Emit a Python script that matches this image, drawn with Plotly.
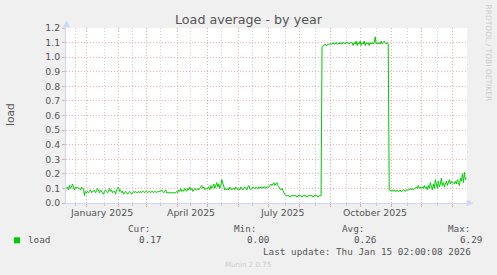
import plotly.graph_objects as go
import pandas as pd

# ---- data: daily load average (Munin "by year", 400 days ending 2026-01-14) ----
dec_2024 = [0.10,0.11,0.09,0.12,0.10,0.11,0.13,0.10,0.09,0.11,0.10,0.11,0.10,0.10,0.09,0.11,0.10,0.10,0.05,0.08,0.07]
jan_2025 = [0.08,0.07,0.08,0.09,0.07,0.08,0.08,0.09,0.07,0.08,0.10,0.08,0.07,0.09,0.08,0.07,0.06,0.08,0.09,0.08,0.07,0.08,0.10,0.08,0.09,0.07,0.08,0.08,0.06,0.09,0.10]
feb_2025 = [0.11,0.08,0.09,0.07,0.08,0.06,0.07,0.08,0.07,0.06,0.07,0.08,0.07,0.06,0.07,0.08,0.07,0.08,0.07,0.07,0.08,0.07,0.08,0.07,0.08,0.08,0.07,0.08]
mar_2025 = [0.08,0.07,0.08,0.08,0.07,0.08,0.08,0.07,0.08,0.08,0.07,0.08,0.08,0.08,0.08,0.09,0.08,0.07,0.08,0.09,0.07,0.07,0.07,0.07,0.07,0.07,0.07,0.07,0.07,0.07,0.08]
apr_2025 = [0.07,0.09,0.08,0.10,0.08,0.09,0.08,0.10,0.09,0.08,0.10,0.09,0.11,0.09,0.10,0.08,0.09,0.10,0.09,0.09,0.10,0.09,0.10,0.11,0.12,0.10,0.11,0.09,0.10,0.10]
may_2025 = [0.10,0.11,0.09,0.12,0.10,0.11,0.13,0.10,0.12,0.14,0.11,0.13,0.10,0.12,0.16,0.13,0.11,0.09,0.10,0.09,0.10,0.09,0.11,0.10,0.09,0.10,0.10,0.09,0.11,0.10,0.09]
jun_2025 = [0.10,0.09,0.11,0.10,0.09,0.10,0.11,0.10,0.09,0.11,0.12,0.10,0.09,0.10,0.11,0.10,0.10,0.11,0.10,0.10,0.11,0.10,0.11,0.11,0.10,0.11,0.11,0.10,0.11,0.11]
jul_2025 = [0.11,0.12,0.13,0.12,0.13,0.14,0.12,0.13,0.14,0.12,0.11,0.10,0.09,0.10,0.08,0.07,0.06,0.05,0.05,0.05,0.05,0.04,0.05,0.05,0.05,0.05,0.05,0.05,0.04,0.05,0.05]
aug_2025 = [0.05,0.05,0.04,0.05,0.05,0.05,0.05,0.04,0.05,0.05,0.05,0.05,0.05,0.04,0.05,0.05,0.05,0.05,0.04,0.05,0.05,0.05,1.07,1.08,1.08,1.09,1.08,1.08,1.09,1.09,1.09]
sep_2025 = [1.09,1.09,1.10,1.09,1.09,1.10,1.09,1.09,1.10,1.09,1.10,1.09,1.10,1.10,1.09,1.10,1.10,1.10,1.09,1.10,1.10,1.10,1.08,1.10,1.09,1.11,1.08,1.10,1.09,1.11]
oct_2025 = [1.08,1.10,1.09,1.11,1.08,1.10,1.09,1.10,1.08,1.10,1.09,1.10,1.09,1.10,1.14,1.09,1.10,1.09,1.10,1.09,1.11,1.09,1.10,1.11,1.10,1.09,1.10,1.09,0.09,0.09,0.08]
nov_2025 = [0.09,0.08,0.09,0.08,0.08,0.09,0.08,0.08,0.09,0.08,0.08,0.09,0.09,0.08,0.09,0.09,0.09,0.09,0.10,0.09,0.10,0.09,0.10,0.10,0.11,0.10,0.12,0.10,0.11,0.10]
dec_2025 = [0.11,0.10,0.12,0.10,0.11,0.09,0.12,0.10,0.14,0.11,0.09,0.13,0.10,0.16,0.12,0.10,0.15,0.11,0.13,0.17,0.12,0.14,0.11,0.13,0.15,0.12,0.14,0.16,0.13,0.15,0.14]
jan_2026 = [0.14,0.13,0.15,0.13,0.16,0.14,0.12,0.17,0.15,0.20,0.14,0.21,0.16,0.17]

load = (dec_2024 + jan_2025 + feb_2025 + mar_2025 + apr_2025 + may_2025 + jun_2025 +
        jul_2025 + aug_2025 + sep_2025 + oct_2025 + nov_2025 + dec_2025 + jan_2026)
first_day = "2024-12-11"

range_start = "2024-12-11 02:00:08"
range_end = "2026-01-15 02:00:08"

month_starts = ["2025-01-01","2025-02-01","2025-03-01","2025-04-01","2025-05-01","2025-06-01",
                "2025-07-01","2025-08-01","2025-09-01","2025-10-01","2025-11-01","2025-12-01","2026-01-01"]
minor_grid = ["2024-12-21","2025-01-18","2025-02-15","2025-03-15","2025-04-14","2025-05-15","2025-06-15",
              "2025-07-18","2025-08-17","2025-09-17","2025-10-17","2025-11-17","2025-12-17","2026-01-16"]
x_label_dates = ["2025-01-15","2025-04-15","2025-07-15","2025-10-15"]
x_label_text = ["January 2025","April 2025","July 2025","October 2025"]
y_ticks = [0.0,0.1,0.2,0.3,0.4,0.5,0.6,0.7,0.8,0.9,1.0,1.1,1.2]

legend_name = "load"
stat_names = ["Cur:","Min:","Avg:","Max:"]
stat_values = ["0.17","0.00","0.26","6.29"]
last_update = "Last update: Thu Jan 15 02:00:08 2026"

# ---- layout geometry (pixels) ----
W, H = 497, 275
L, R, T, B = 66, 467, 28, 203
def px(x): return (x - L) / (R - L)
def py(y): return (B - y) / (B - T)

FONT = "DejaVu Sans"
MONO = "DejaVu Sans Mono"
TXT = "#555555"
MGRID = "rgba(225,110,110,0.55)"
GRID = "rgba(150,150,150,0.45)"
AXIS = "#CFD6F8"

dates = pd.date_range(first_day + " 12:00", periods=len(load), freq="D")

fig = go.Figure()
fig.add_trace(go.Scatter(x=dates, y=load, mode="lines",
                         line=dict(color="#00CC00", width=1), hoverinfo="skip", showlegend=False))

fig.update_layout(
    width=W, height=H,
    margin=dict(l=L, r=W - R, t=T, b=H - B, pad=0),
    paper_bgcolor="#F0F0F0", plot_bgcolor="#FFFFFF",
    showlegend=False,
    xaxis=dict(type="date", range=[range_start, range_end],
               tickmode="array", tickvals=month_starts, showticklabels=False,
               ticks="outside", ticklen=3, tickcolor=MGRID, tickwidth=1,
               showgrid=True, gridcolor=MGRID, gridwidth=1, griddash="1px,2px",
               minor=dict(tickmode="array", tickvals=minor_grid, showgrid=True,
                          gridcolor=GRID, gridwidth=1, griddash="1px,2px",
                          ticks="outside", ticklen=2, tickcolor=GRID),
               showline=True, linecolor=AXIS, linewidth=1, zeroline=False, fixedrange=True),
    yaxis=dict(range=[0, 1.2], tickmode="array", tickvals=y_ticks, tickformat=".1f",
               ticks="outside", ticklen=3, tickcolor=MGRID,
               tickfont=dict(family=FONT, size=9.33, color=TXT),
               showgrid=True, gridcolor=MGRID, gridwidth=1, griddash="1px,2px",
               showline=True, linecolor=AXIS, linewidth=1, zeroline=False, fixedrange=True),
)

ann = []
# title
ann.append(dict(text="Load average - by year", xref="paper", yref="paper",
                x=px(248.5), y=py(19), xanchor="center", yanchor="middle", showarrow=False,
                font=dict(family=FONT, size=12.7, color=TXT), borderpad=0))
# y label
ann.append(dict(text="load", xref="paper", yref="paper", x=px(10), y=py(115),
                xanchor="center", yanchor="middle", textangle=-90, showarrow=False,
                font=dict(family=FONT, size=10.67, color=TXT), borderpad=0))
# x labels
for d, t in zip(x_label_dates, x_label_text):
    ann.append(dict(text=t, xref="x", yref="paper", x=d, y=py(212.5), xanchor="center",
                    yanchor="middle", showarrow=False,
                    font=dict(family=FONT, size=9.33, color=TXT), borderpad=0))
# watermark
ann.append(dict(text="RRDTOOL / TOBI OETIKER", xref="paper", yref="paper", x=px(488.5), y=py(53),
                xanchor="center", yanchor="middle", textangle=90, showarrow=False,
                font=dict(family=FONT, size=7.5, color="#CBCBCB"), borderpad=0))
# legend
ann.append(dict(text=legend_name, xref="paper", yref="paper", x=px(26.7), y=py(239.5),
                xanchor="left", yanchor="middle", showarrow=False,
                font=dict(family=MONO, size=9.33, color=TXT), borderpad=0))
name_x = [127.3, 233.3, 340.7, 447.3]
val_x = [138.3, 246.4, 352.7, 459.3]
for n, v, nx, vx in zip(stat_names, stat_values, name_x, val_x):
    ann.append(dict(text=n, xref="paper", yref="paper", x=px(nx), y=py(228), xanchor="left",
                    yanchor="middle", showarrow=False,
                    font=dict(family=MONO, size=9.33, color=TXT), borderpad=0))
    ann.append(dict(text=v, xref="paper", yref="paper", x=px(vx), y=py(239.5), xanchor="left",
                    yanchor="middle", showarrow=False,
                    font=dict(family=MONO, size=9.33, color=TXT), borderpad=0))
ann.append(dict(text=last_update, xref="paper", yref="paper", x=px(261.7), y=py(251),
                xanchor="left", yanchor="middle", showarrow=False,
                font=dict(family=MONO, size=9.33, color=TXT), borderpad=0))
ann.append(dict(text="Munin 2.0.75", xref="paper", yref="paper", x=px(248), y=py(264),
                xanchor="center", yanchor="middle", showarrow=False,
                font=dict(family=FONT, size=7.1, color="#CCCCCC"), borderpad=0))
fig.update_layout(annotations=ann)

shapes = []
# legend swatch
shapes.append(dict(type="rect", xref="paper", yref="paper", x0=px(14), x1=px(20), y0=py(243.3), y1=py(237.3),
                   fillcolor="#00CC00", line=dict(width=0)))
# axis arrows
shapes.append(dict(type="path", xref="paper", yref="paper", xsizemode="pixel", ysizemode="pixel",
                   xanchor=0, yanchor=1, path="M -3,1 L 4,1 L 0.5,7 Z",
                   fillcolor=AXIS, line=dict(color=AXIS, width=0.5)))
shapes.append(dict(type="path", xref="paper", yref="paper", xsizemode="pixel", ysizemode="pixel",
                   xanchor=1, yanchor=0, path="M 0,3 L 0,-3 L 6,0 Z",
                   fillcolor=AXIS, line=dict(color=AXIS, width=0.5)))
fig.update_layout(shapes=shapes)

fig.write_html("out.html")
